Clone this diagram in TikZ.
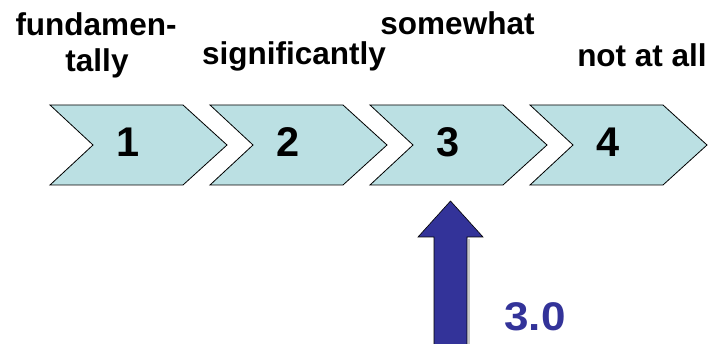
\documentclass[tikz,border=0pt]{standalone}
\usepackage{fontspec}
\setmainfont{Liberation Sans}
\definecolor{chev}{HTML}{BBE0E3}
\definecolor{navy}{HTML}{333399}
\begin{document}
\begin{tikzpicture}[x=1pt,y=-1pt,
  chevron/.style={fill=chev,draw=black,line width=0.8pt,line join=miter},
  lbl/.style={font=\fontsize{31.5}{36}\selectfont\bfseries,anchor=base,inner sep=0pt},
  num/.style={font=\fontsize{41.5}{44}\selectfont\bfseries,anchor=base,inner sep=0pt},
  bigarrow/.style={fill=navy,draw=black,line width=0.6pt,line join=miter}]
\useasboundingbox (0,0) rectangle (710,344);
\foreach \i/\L in {1/50,2/210,3/370,4/530}{
  \draw[chevron] (\L,105) -- (\L+133,105) -- (\L+177,145) -- (\L+133,185) -- (\L,185) -- (\L+43,145) -- cycle;
  \node[num] (n\i) at (\L+78,157) {\i};
}
\node[lbl] (l1a) at (96,36) {fundamen-};
\node[lbl] (l1b) at (97,72) {tally};
\node[lbl] (l2) at (294,65) {significantly};
\node[lbl] (l3) at (457.5,35) {somewhat};
\node[lbl] (l4) at (642,67) {not at all};
\draw[gray!45,line width=1.5pt] (468.8,239) -- (468.8,346);
\draw[bigarrow] (450.5,201) -- (483,237) -- (467,237) -- (467,346) -- (434,346) -- (434,237) -- (418,237) -- cycle;
\node[font=\fontsize{40}{44}\selectfont\bfseries,anchor=base,inner sep=0pt,text=navy] (v) at (535,331) {\scalebox{1.1}[1]{3.0}};
\end{tikzpicture}
\end{document}
